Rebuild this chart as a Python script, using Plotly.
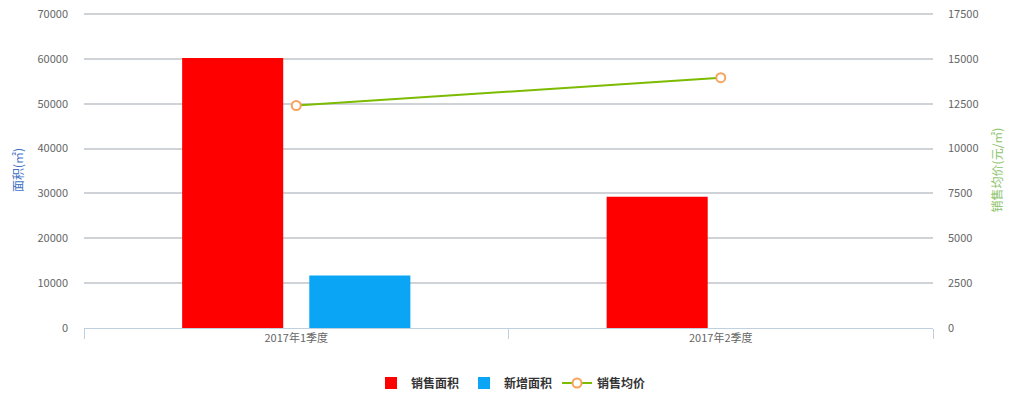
import plotly.graph_objects as go

categories = ["2017年1季度", "2017年2季度"]
sales_area = [60200, 29250]
new_area = [11700, 0]
avg_price = [12400, 13950]
left_ticks = [0, 10000, 20000, 30000, 40000, 50000, 60000, 70000]
right_ticks = [0, 2500, 5000, 7500, 10000, 12500, 15000, 17500]

FONT = "Noto Sans CJK SC, Microsoft YaHei, sans-serif"

# plot area 316 px tall; top tick (70000 / 17500) sits 2 px below its top edge
PAD = 316 / 314

fig = go.Figure()
fig.add_trace(go.Bar(name="<b>销售面积</b>", x=categories, y=sales_area,
                     marker=dict(color="#ff0000", line=dict(width=0))))
fig.add_trace(go.Bar(name="<b>新增面积</b>", x=categories, y=new_area,
                     marker=dict(color="#0ba5f5", line=dict(width=0))))
fig.add_trace(go.Scatter(name="<b>销售均价</b>", x=categories, y=avg_price, yaxis="y2",
                         mode="lines+markers",
                         line=dict(color="#7cbb00", width=2),
                         marker=dict(symbol="circle", size=9, color="white",
                                     line=dict(color="#f7a35c", width=2))))

fig.update_layout(
    width=1034, height=399,
    margin=dict(l=84, r=101, t=12, b=71, autoexpand=False),
    paper_bgcolor="white", plot_bgcolor="white",
    font=dict(family=FONT, size=11, color="#666666"),
    barmode="group", bargap=0.401, bargroupgap=0.205,
    showlegend=True,
    legend=dict(orientation="h", x=511 / 1034, xanchor="center", xref="container",
                y=16 / 399, yanchor="middle", yref="container",
                font=dict(size=12, color="#333333", family=FONT),
                itemwidth=30, traceorder="normal"),
    xaxis=dict(type="category", showgrid=False, showline=True, linecolor="#c0d0e0",
               linewidth=1, ticks="outside", tickson="boundaries", ticklen=10,
               tickcolor="#c0d0e0", tickfont=dict(size=11, color="#666666"),
               automargin=False),
    yaxis=dict(range=[0, max(left_ticks) * PAD], tickvals=left_ticks, tickformat="d",
               showgrid=True, gridcolor="#cfd2d6", gridwidth=1.5, zeroline=False,
               showline=False, ticks="", ticklabelstandoff=15, ticklabeloverflow="allow",
               tickfont=dict(size=11, color="#666666"),
               title=dict(text="面积(㎡)", font=dict(size=12, color="#4572c4"), standoff=11),
               automargin=False),
    yaxis2=dict(range=[0, max(right_ticks) * PAD], tickvals=right_ticks, tickformat="d",
                overlaying="y", side="right", showgrid=False, zeroline=False,
                showline=False, ticks="", ticklabelstandoff=14, ticklabeloverflow="allow",
                tickfont=dict(size=11, color="#666666"),
                title=dict(text="销售均价(元/㎡)", font=dict(size=12, color="#8cc36a"), standoff=16),
                automargin=False),
)

fig.write_html("out.html", config={"displayModeBar": False},
               post_script="document.body.style.margin='0';")
